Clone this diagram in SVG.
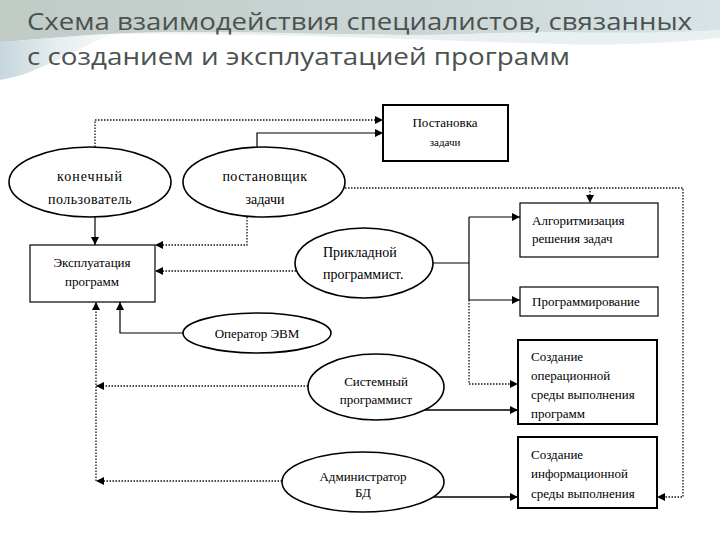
<svg xmlns="http://www.w3.org/2000/svg" width="720" height="540" viewBox="0 0 720 540">
<defs>
<linearGradient id="bg" x1="0" y1="0" x2="1" y2="0">
<stop offset="0" stop-color="#c0cbc6"/>
<stop offset="0.6" stop-color="#ccd6d6"/>
<stop offset="1" stop-color="#d8e3e6"/>
</linearGradient>
<linearGradient id="bg2" x1="0" y1="0" x2="1" y2="0">
<stop offset="0" stop-color="#b7cdd5"/>
<stop offset="0.5" stop-color="#dfe8ea"/>
<stop offset="1" stop-color="#f4f7f8"/>
</linearGradient>
<marker id="arr" viewBox="0 0 10 10" refX="10" refY="5" markerWidth="9" markerHeight="8" orient="auto" markerUnits="userSpaceOnUse">
<path d="M0,0 L10,5 L0,10 z" fill="#000"/>
</marker>
</defs>
<style>
.title{font-family:"Open Sans","Noto Sans",sans-serif;font-size:24px;fill:#4b524f}
.t{font-family:"Liberation Serif","Times New Roman",serif;font-size:13px;fill:#000}
.te{font-family:"Liberation Serif","Times New Roman",serif;font-size:14px;fill:#000}
.small{font-size:11px}
.box{fill:#fff;stroke:#000;stroke-width:1.2}
.boxb{fill:#fff;stroke:#000;stroke-width:2}
.ell{fill:#fff;stroke:#000;stroke-width:1.6}
.solid{fill:none;stroke:#000;stroke-width:1.2}
.thick{stroke-width:1.6}
.dot{fill:none;stroke:#111;stroke-width:1.3;stroke-dasharray:1.5 1.5}
</style>
<rect width="720" height="540" fill="#fff"/>
<path d="M0,0 H720 V30 C640,36 560,30 470,34 C360,38 220,28 110,34 C70,36 30,40 0,42 Z" fill="url(#bg)"/>
<path d="M0,42 C30,40 70,36 110,34 C90,44 60,60 30,72 C20,76 10,78 0,80 Z" fill="url(#bg2)" opacity="0.8"/>
<path d="M110,34 C250,32 420,40 560,44 C620,46 680,42 720,38 V30 C640,36 560,30 470,34 C360,38 220,28 110,34 Z" fill="#e4ecee" opacity="0.8"/>
<text class="title" x="27" y="30" textLength="665" lengthAdjust="spacingAndGlyphs">Схема взаимодействия специалистов, связанных</text>
<text class="title" x="27" y="65" textLength="543" lengthAdjust="spacingAndGlyphs">с созданием и эксплуатацией программ</text>

<g id="connectors">
<path class="dot" d="M95,147 V120 H383" marker-end="url(#arr)"/>
<path class="solid" d="M257,147 V133 H383" marker-end="url(#arr)"/>
<path class="dot" d="M247,217 V245 H155" marker-end="url(#arr)"/>
<path class="dot" d="M296,271 H155" marker-end="url(#arr)"/>
<path class="solid" d="M95,217 V245" marker-end="url(#arr)"/>
<path class="dot" d="M345,188 H683 V497 H657" marker-end="url(#arr)"/>
<path class="dot" d="M590,188 V203" marker-end="url(#arr)"/>
<path class="solid" d="M433,263 H469 M469,217 V300"/>
<path class="solid" d="M469,217 H520" marker-end="url(#arr)"/>
<path class="solid" d="M469,300 H520" marker-end="url(#arr)"/>
<path class="dot" d="M469,300 V384 H518" marker-end="url(#arr)"/>
<path class="solid thick" d="M425,410 H518" marker-end="url(#arr)"/>
<path class="solid thick" d="M433,497 H518" marker-end="url(#arr)"/>
<path class="solid" d="M183,333 H120 V302" marker-end="url(#arr)"/>
<path class="dot" d="M96,481 V302" marker-end="url(#arr)"/>
<path class="dot" d="M308,386 H96" marker-end="url(#arr)"/>
<path class="dot" d="M282,481 H96" marker-end="url(#arr)"/>
</g>

<g id="postanovka">
<rect class="boxb" x="383" y="105" width="125" height="56"/>
<text class="t" x="445" y="127" text-anchor="middle">Постановка</text>
<text class="t small" x="445" y="146" text-anchor="middle">задачи</text>
</g>
<g id="algoritm">
<rect class="box" x="520" y="203" width="138" height="54"/>
<text class="t" x="532" y="225">Алгоритмизация</text>
<text class="t" x="532" y="243">решения задач</text>
</g>
<g id="programmirovanie">
<rect class="box" x="520" y="287" width="138" height="29"/>
<text class="t" x="532" y="306">Программирование</text>
</g>
<g id="oper-sreda">
<rect class="boxb" x="518" y="340" width="139" height="84"/>
<text class="t" x="531" y="361">Создание</text>
<text class="t" x="531" y="380">операционной</text>
<text class="t" x="531" y="399">среды выполнения</text>
<text class="t" x="531" y="418">программ</text>
</g>
<g id="info-sreda">
<rect class="boxb" x="518" y="437" width="139" height="71"/>
<text class="t" x="531" y="459">Создание</text>
<text class="t" x="531" y="478">информационной</text>
<text class="t" x="531" y="498">среды выполнения</text>
</g>
<g id="ekspluataciya">
<rect class="box" x="30" y="245" width="125" height="57"/>
<text class="t" x="92" y="267" text-anchor="middle">Эксплуатация</text>
<text class="t" x="92" y="286" text-anchor="middle">программ</text>
</g>
<g id="konechny">
<ellipse class="ell" cx="90" cy="182" rx="81" ry="35"/>
<text class="te" x="90" y="181" text-anchor="middle" letter-spacing="1">конечный</text>
<text class="te" x="90" y="204" text-anchor="middle" letter-spacing="0.5">пользователь</text>
</g>
<g id="postanovshik">
<ellipse class="ell" cx="264" cy="182" rx="81" ry="35"/>
<text class="te" x="265" y="181" text-anchor="middle" letter-spacing="0.5">постановщик</text>
<text class="te" x="265" y="204" text-anchor="middle">задачи</text>
</g>
<g id="prikladnoy">
<ellipse class="ell" cx="364" cy="263" rx="69" ry="35"/>
<text class="te" x="323" y="257">Прикладной</text>
<text class="te" x="323" y="279">программист.</text>
</g>
<g id="operator">
<ellipse class="ell" cx="257" cy="333" rx="74" ry="20"/>
<text class="t" x="257" y="338" text-anchor="middle">Оператор  ЭВМ</text>
</g>
<g id="sistemny">
<ellipse class="ell" cx="376" cy="387" rx="68" ry="33"/>
<text class="t" x="376" y="386" text-anchor="middle">Системный</text>
<text class="t" x="376" y="404" text-anchor="middle">программист</text>
</g>
<g id="admin">
<ellipse class="ell" cx="363" cy="482" rx="81" ry="30"/>
<text class="t" x="363" y="481" text-anchor="middle">Администратор</text>
<text class="t" x="363" y="497" text-anchor="middle">БД</text>
</g>
</svg>
